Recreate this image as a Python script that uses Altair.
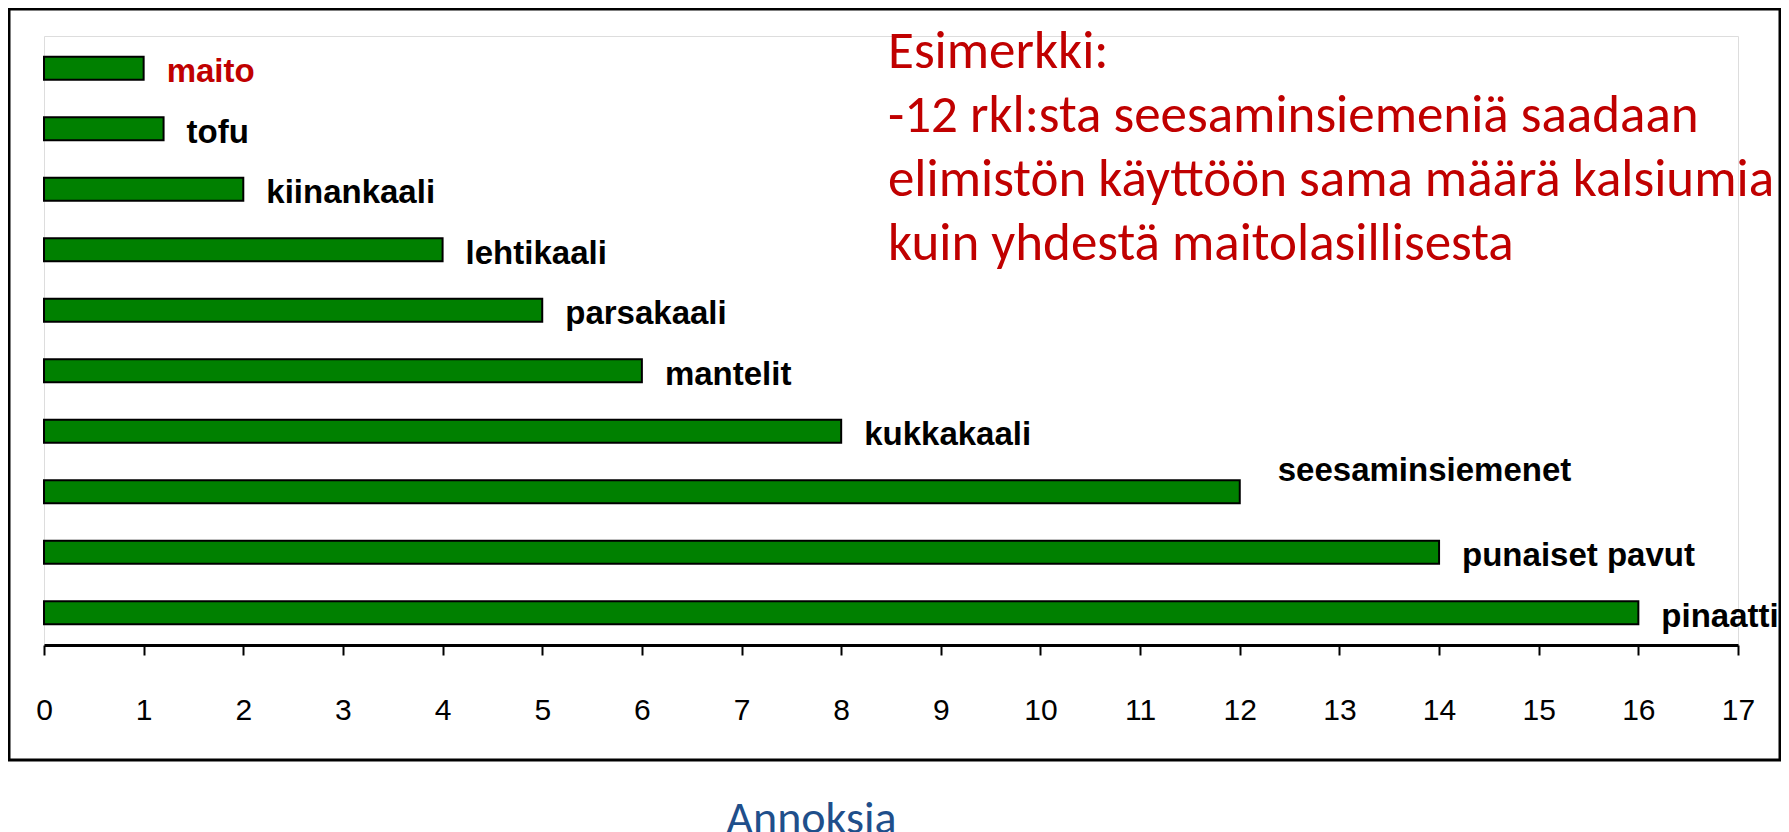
import altair as alt
import pandas as pd

foods = ["maito", "tofu", "kiinankaali", "lehtikaali", "parsakaali", "mantelit",
         "kukkakaali", "seesaminsiemenet", "punaiset pavut", "pinaatti"]
servings = [1, 1.2, 2, 4, 5, 6, 8, 12, 14, 16]
x_ticks = list(range(0, 18))
note_lines = ["Esimerkki:",
              "-12 rkl:sta seesaminsiemeniä saadaan",
              "elimistön käyttöön sama määrä kalsiumia",
              "kuin yhdestä maitolasillisesta"]
x_title = "Annoksia"
highlight = "maito"
raised_label = "seesaminsiemenet"

df = pd.DataFrame({"food": foods, "servings": servings})

W, H = 1694, 609
SANS = "Liberation Sans, Arial, sans-serif"
CAL = "Carlito, Lato, sans-serif"

xenc = alt.X(
    "servings:Q",
    scale=alt.Scale(domain=[0, 17], nice=False, zero=True),
    axis=alt.Axis(values=x_ticks, format="d", title=x_title, grid=False,
                  domainColor="black", domainWidth=3,
                  tickColor="black", tickWidth=2, tickSize=10,
                  labelFont=SANS, labelFontSize=30, labelColor="black",
                  labelPadding=40, labelFlush=False,
                  titleFont=CAL, titleFontSize=46, titleFontWeight="normal",
                  titleColor="#1F4F8B", titleX=767, titleY=187,
                  titleAlign="center", titleBaseline="alphabetic"),
)
yenc = alt.Y("food:N", sort=foods,
             scale=alt.Scale(paddingInner=0, paddingOuter=0.0314), axis=None)

base = alt.Chart(df)

bars = base.mark_bar(size=23, fill="#008000", stroke="black", strokeWidth=2).encode(
    x=xenc, y=yenc)

labels = base.transform_filter(alt.datum.food != raised_label).mark_text(
    align="left", baseline="middle", dx=23, dy=4, font=SANS, fontSize=33,
    fontWeight="bold").encode(
    x=alt.X("servings:Q"), y=alt.Y("food:N", sort=foods), text="food:N",
    color=alt.condition(alt.datum.food == highlight, alt.value("#C00000"), alt.value("black")))

raised = base.transform_filter(alt.datum.food == raised_label).mark_text(
    align="left", baseline="middle", dx=38, dy=-21, font=SANS, fontSize=33,
    fontWeight="bold", color="black").encode(
    x=alt.X("servings:Q"), y=alt.Y("food:N", sort=foods), text="food:N")

one = pd.DataFrame({"k": [0]})
frame = alt.Chart(one).mark_rect(fillOpacity=0, stroke="black", strokeWidth=3).encode(
    x=alt.value(-35), x2=alt.value(1736), y=alt.value(-27), y2=alt.value(724))

note = alt.Chart(one).mark_text(
    text=note_lines, align="left", baseline="alphabetic", lineHeight=64,
    font=CAL, fontSize=53, color="#C00000").encode(
    x=alt.value(844), y=alt.value(32))

chart = alt.layer(frame, bars, labels, raised, note).properties(
    width=W, height=H,
    autosize=alt.AutoSizeParams(type="none"),
    padding={"left": 36, "top": 28, "right": 43, "bottom": 187},
).configure_view(stroke=None).configure(background="white")

chart.save("out.html", embed_options={"renderer": "svg", "actions": False})
